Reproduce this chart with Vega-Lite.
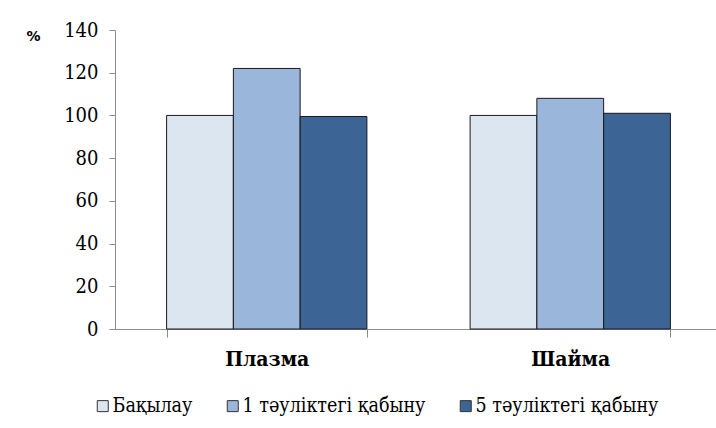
{
  "$schema": "https://vega.github.io/schema/vega-lite/v6.json",
  "width": 607,
  "height": 299,
  "autosize": "none",
  "padding": {"left": 115, "top": 30, "right": 0, "bottom": 99},
  "background": "white",
  "config": {"view": {"stroke": null}},
  "data": {
    "values": [
      {"group": "Плазма", "series": "Бақылау", "value": 100},
      {"group": "Плазма", "series": "1 тәуліктегі қабыну", "value": 122},
      {"group": "Плазма", "series": "5 тәуліктегі қабыну", "value": 99.5},
      {"group": "Шайма", "series": "Бақылау", "value": 100},
      {"group": "Шайма", "series": "1 тәуліктегі қабыну", "value": 108},
      {"group": "Шайма", "series": "5 тәуліктегі қабыну", "value": 101}
    ]
  },
  "mark": {"type": "bar", "stroke": "#1a1a1a", "strokeWidth": 1},
  "encoding": {
    "x": {
      "field": "group",
      "type": "nominal",
      "sort": ["Плазма", "Шайма"],
      "scale": {"paddingInner": 0.34, "paddingOuter": 0.17},
      "axis": {
        "title": null,
        "labelAngle": 0,
        "labelFont": "DejaVu Serif Condensed",
        "labelFontSize": 21,
        "labelFontWeight": "bold",
        "labelColor": "#000000",
        "labelPadding": 11,
        "domainColor": "#8c8c8c",
        "tickColor": "#8c8c8c",
        "tickSize": 8,
        "tickBand": "extent"
      }
    },
    "xOffset": {
      "field": "series",
      "type": "nominal",
      "sort": ["Бақылау", "1 тәуліктегі қабыну", "5 тәуліктегі қабыну"],
      "scale": {"paddingInner": 0, "paddingOuter": 0}
    },
    "y": {
      "field": "value",
      "type": "quantitative",
      "scale": {"domain": [0, 140], "nice": false},
      "axis": {
        "values": [0, 20, 40, 60, 80, 100, 120, 140],
        "grid": false,
        "title": "%",
        "titleAngle": 0,
        "titleX": -82,
        "titleY": 13,
        "titleAlign": "center",
        "titleFont": "DejaVu Sans",
        "titleFontSize": 14,
        "titleFontWeight": "bold",
        "titleColor": "#000000",
        "labelFont": "DejaVu Serif Condensed",
        "labelFontSize": 20,
        "labelColor": "#000000",
        "labelPadding": 11,
        "domainColor": "#8c8c8c",
        "tickColor": "#8c8c8c",
        "tickSize": 6
      }
    },
    "color": {
      "field": "series",
      "type": "nominal",
      "sort": ["Бақылау", "1 тәуліктегі қабыну", "5 тәуліктегі қабыну"],
      "scale": {
        "domain": ["Бақылау", "1 тәуліктегі қабыну", "5 тәуліктегі қабыну"],
        "range": ["#DCE6F1", "#9AB6DA", "#3C6494"]
      },
      "legend": {
        "title": null,
        "orient": "none",
        "direction": "horizontal",
        "legendX": -22,
        "legendY": 366,
        "symbolType": "square",
        "symbolSize": 121,
        "symbolStrokeColor": "#333333",
        "symbolStrokeWidth": 1,
        "symbolOpacity": 1,
        "labelFont": "DejaVu Serif Condensed",
        "labelFontSize": 19.5,
        "labelColor": "#000000",
        "labelOffset": 0,
        "columnPadding": 30,
        "labelLimit": 300
      }
    }
  }
}
